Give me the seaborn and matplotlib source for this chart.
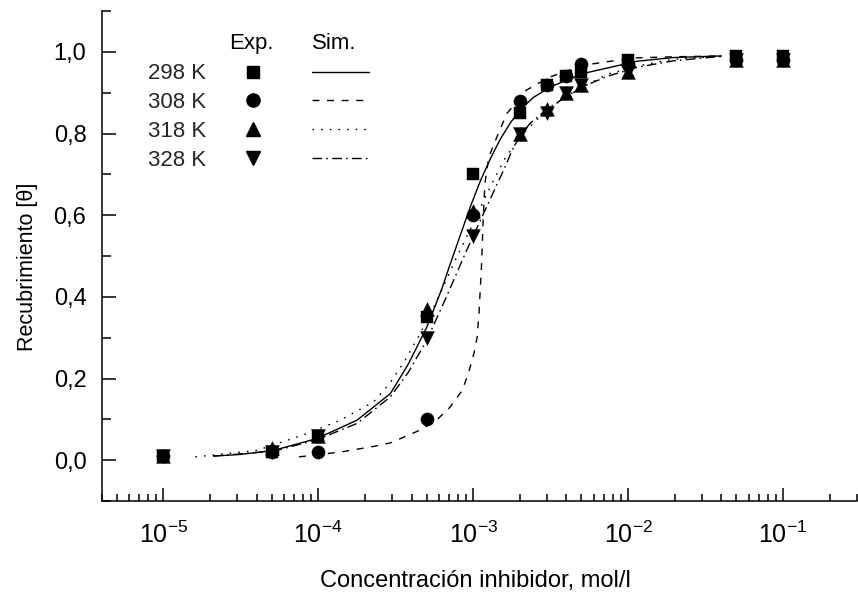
import matplotlib
matplotlib.use("Agg")
import matplotlib.pyplot as plt
import pandas as pd
import seaborn as sns
from matplotlib.lines import Line2D
from matplotlib.ticker import FixedLocator, FixedFormatter, NullFormatter

# Experimental coverage vs inhibitor concentration
conc = [1e-5, 5e-5, 1e-4, 5e-4, 1e-3, 2e-3, 3e-3, 4e-3, 5e-3, 1e-2, 5e-2, 1e-1]
theta_298 = [0.01, 0.02, 0.06, 0.35, 0.70, 0.85, 0.92, 0.94, 0.95, 0.98, 0.99, 0.99]
theta_308 = [0.01, 0.02, 0.02, 0.10, 0.60, 0.88, 0.92, 0.94, 0.97, 0.97, 0.98, 0.98]
theta_318 = [0.01, 0.03, 0.06, 0.37, 0.61, 0.80, 0.86, 0.90, 0.92, 0.95, 0.98, 0.98]
theta_328 = [0.01, 0.02, 0.06, 0.30, 0.55, 0.80, 0.85, 0.90, 0.92, 0.95, 0.98, 0.98]

# Simulated isotherms
sim_298_x = [2.11e-5, 3.14e-5, 5.16e-5, 9.8e-5, 1.78e-4, 2.92e-4, 3.81e-4, 5.02e-4,
             5.58e-4, 6.28e-4, 7.07e-4, 8.24e-4, 9.57e-4, 1.11e-3, 1.29e-3, 1.49e-3,
             1.73e-3, 2.01e-3, 2.44e-3, 3.14e-3, 5.13e-3, 1.14e-2, 1.95e-2, 4.0e-2]
sim_298_y = [0.010, 0.014, 0.024, 0.053, 0.098, 0.163, 0.235, 0.326,
             0.370, 0.420, 0.478, 0.550, 0.620, 0.683, 0.738, 0.785,
             0.825, 0.858, 0.888, 0.914, 0.947, 0.977, 0.986, 0.990]

sim_308_x = [7.5e-5, 1.4e-4, 2.3e-4, 2.9e-4, 3.4e-4, 4.5e-4, 5.8e-4, 7.1e-4, 8.5e-4,
             9.3e-4, 1.01e-3, 1.06e-3, 1.09e-3, 1.13e-3, 1.16e-3, 1.19e-3, 1.26e-3,
             1.42e-3, 1.65e-3, 2.2e-3, 3.1e-3, 5.1e-3, 1.07e-2, 2e-2, 4e-2]
sim_308_y = [0.008, 0.020, 0.034, 0.042, 0.053, 0.073, 0.098, 0.130, 0.171,
             0.212, 0.261, 0.30, 0.36, 0.47, 0.59, 0.677, 0.742,
             0.791, 0.849, 0.906, 0.938, 0.967, 0.985, 0.988, 0.990]

sim_318_x = [1.61e-5, 4.03e-5, 8.46e-5, 1.39e-4, 2.28e-4, 2.92e-4, 3.64e-4, 4.55e-4,
             5.86e-4, 7.66e-4, 1.0e-3, 1.29e-3, 1.61e-3, 2.10e-3, 2.51e-3, 3.0e-3,
             3.92e-3, 5.13e-3, 7.33e-3, 1.14e-2, 1.95e-2, 4.0e-2]
sim_318_y = [0.008, 0.024, 0.065, 0.098, 0.143, 0.190, 0.245, 0.310,
             0.392, 0.490, 0.580, 0.670, 0.740, 0.800, 0.830, 0.855,
             0.890, 0.915, 0.945, 0.965, 0.982, 0.989]

sim_328_x = [2.11e-5, 5.16e-5, 9.8e-5, 1.78e-4, 2.92e-4, 3.81e-4, 5.02e-4, 6.72e-4,
             9.1e-4, 1.17e-3, 1.57e-3, 1.79e-3, 2.01e-3, 2.33e-3, 3.0e-3, 3.92e-3,
             5.13e-3, 7.33e-3, 1.14e-2, 1.95e-2, 4.0e-2]
sim_328_y = [0.010, 0.022, 0.050, 0.090, 0.155, 0.215, 0.294, 0.400,
             0.515, 0.605, 0.710, 0.760, 0.795, 0.825, 0.860, 0.888,
             0.915, 0.940, 0.962, 0.978, 0.989]

temps = ["298 K", "308 K", "318 K", "328 K"]
x_ticks = [1e-5, 1e-4, 1e-3, 1e-2, 1e-1]
x_tick_labels = [r"$10^{-5}$", r"$10^{-4}$", r"$10^{-3}$", r"$10^{-2}$", r"$10^{-1}$"]
y_ticks = [0.0, 0.2, 0.4, 0.6, 0.8, 1.0]
y_tick_labels = ["0,0", "0,2", "0,4", "0,6", "0,8", "1,0"]

sns.set_theme(style="white")
plt.rcParams["font.family"] = ["Liberation Sans", "DejaVu Sans"]
plt.rcParams["mathtext.fontset"] = "custom"
plt.rcParams["mathtext.rm"] = "Liberation Sans"
plt.rcParams["mathtext.it"] = "Liberation Sans"
plt.rcParams["mathtext.default"] = "regular"
plt.rcParams["lines.scale_dashes"] = False

FS = 16
markers = ["s", "o", "^", "v"]
msizes = [8.5, 9.5, 10, 10]
styles = ["-", (0, (5, 5.5)), (0, (1.2, 5)), (0, (7, 3, 1.2, 3))]

exp_df = pd.DataFrame({
    "conc": conc * 4,
    "theta": theta_298 + theta_308 + theta_318 + theta_328,
    "T": sum([[t] * len(conc) for t in temps], []),
})
sims = [(sim_298_x, sim_298_y), (sim_308_x, sim_308_y),
        (sim_318_x, sim_318_y), (sim_328_x, sim_328_y)]

fig = plt.figure(figsize=(8.58, 5.96), dpi=100)
ax = fig.add_axes([0.1185, 0.1594, 0.8803, 0.8221])
ax.set_xscale("log")

for (sx, sy), ls in zip(sims, styles):
    sns.lineplot(x=sx, y=sy, ax=ax, color="black", linestyle=ls, linewidth=1.0,
                 estimator=None, sort=False, legend=False)

for t, m, ms in zip(temps, markers, msizes):
    sub = exp_df[exp_df["T"] == t]
    sns.scatterplot(data=sub, x="conc", y="theta", ax=ax, marker=m, s=ms ** 2,
                    color="black", edgecolor="black", linewidth=0.3, legend=False,
                    zorder=3)

ax.set_xlim(4e-6, 0.3)
ax.set_ylim(-0.1, 1.1)

for side in ["top", "right"]:
    ax.spines[side].set_visible(False)
for side in ["left", "bottom"]:
    ax.spines[side].set_linewidth(1.1)
    ax.spines[side].set_color("black")

ax.xaxis.set_major_locator(FixedLocator(x_ticks))
ax.xaxis.set_major_formatter(FixedFormatter(x_tick_labels))
minor_x = [k * 10.0 ** e for e in range(-6, 0) for k in range(2, 10)]
ax.xaxis.set_minor_locator(FixedLocator(minor_x))
ax.xaxis.set_minor_formatter(NullFormatter())

ax.yaxis.set_major_locator(FixedLocator(y_ticks))
ax.yaxis.set_major_formatter(FixedFormatter(y_tick_labels))
ax.yaxis.set_minor_locator(FixedLocator([-0.1, 0.1, 0.3, 0.5, 0.7, 0.9, 1.1]))

ax.tick_params(axis="both", which="both", direction="in", color="black",
               width=1.1, labelcolor="black")
ax.tick_params(axis="x", which="major", length=9.5, pad=15, bottom=True, labelsize=18)
ax.tick_params(axis="x", which="minor", length=5, bottom=True)
ax.tick_params(axis="y", which="major", length=10, pad=11, left=True, labelsize=17)
ax.tick_params(axis="y", which="minor", length=6.5, left=True)

ax.set_xlabel("Concentración inhibidor, mol/l", fontsize=17, color="black")
ax.set_ylabel("Recubrimiento [θ]", fontsize=15.5, color="black")
ax.xaxis.set_label_coords(0.495, -0.140)
ax.yaxis.set_label_coords(-0.084, 0.478)

# Two-column key: experimental markers and simulated line styles
marker_handles = [Line2D([], [], color="black", marker=m, markersize=ms, linestyle="none")
                  for m, ms in zip(markers, msizes)]
line_handles = [Line2D([], [], color="black", linestyle=ls, linewidth=1.0)
                for ls in styles]
leg = ax.legend(marker_handles + line_handles, temps + [""] * 4, ncol=2,
                markerfirst=False, frameon=False, fontsize=FS,
                loc="upper left", bbox_to_anchor=(0.0615, 0.893),
                borderpad=0, borderaxespad=0, handlelength=2.57,
                handletextpad=0.80, columnspacing=0.59, labelspacing=0.35)
ax.text(0.1986, 0.934, "Exp.", transform=ax.transAxes, ha="center", va="center",
        fontsize=FS, color="black")
ax.text(0.3076, 0.934, "Sim.", transform=ax.transAxes, ha="center", va="center",
        fontsize=FS, color="black")

fig.savefig("out.png", dpi=100, facecolor="white")
